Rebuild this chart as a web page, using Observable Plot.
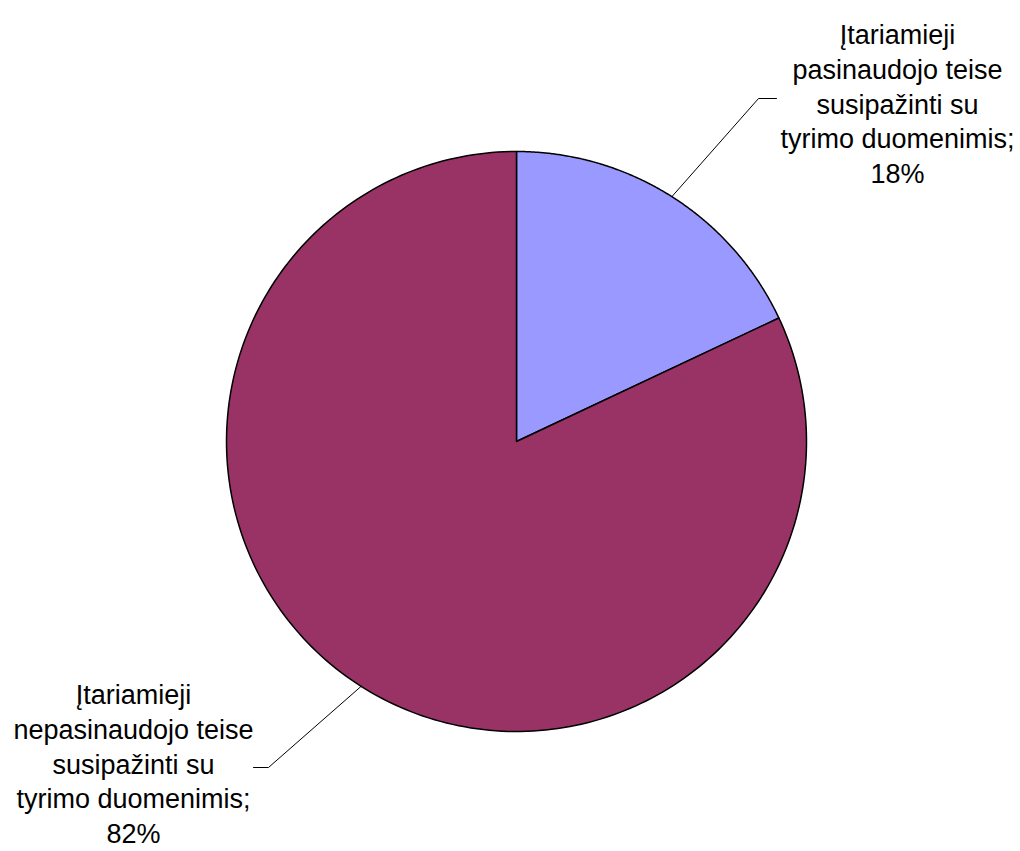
<!DOCTYPE html>
<html><head><meta charset="utf-8">
<script src="https://cdn.jsdelivr.net/npm/d3@7"></script>
<script src="https://cdn.jsdelivr.net/npm/@observablehq/plot@0.6"></script>
<style>body{margin:0;background:#fff}</style>
</head><body><div id="chart"></div>
<script>
const categories = ["Įtariamieji pasinaudojo teise susipažinti su tyrimo duomenimis", "Įtariamieji nepasinaudojo teise susipažinti su tyrimo duomenimis"];
const values = [18, 82];
const labels = ["Įtariamieji\npasinaudojo teise\nsusipažinti su\ntyrimo duomenimis;\n18%", "Įtariamieji\nnepasinaudojo teise\nsusipažinti su\ntyrimo duomenimis;\n82%"];
const colors = ["#9999FF", "#993366"];

const W = 1020, H = 851, cx = 516, cy = 441, R = 290;
// label layout: elbow point, end of horizontal leader, text centre
const layout = [
  {elbow: [758, 98], end: [776, 98], text: [897, 102]},
  {elbow: [268, 767], end: [253, 767], text: [133, 762]}
];

const slices = d3.pie().sort(null).value(d => d.value)(
  categories.map((c, i) => ({c, value: values[i], label: labels[i], color: colors[i]}))
);

const marks = [];
slices.forEach((s, i) => {
  const pts = [{x: cx, y: cy}];
  const n = 240;
  for (let j = 0; j <= n; j++) {
    const a = s.startAngle + (s.endAngle - s.startAngle) * j / n;
    pts.push({x: cx + R * Math.sin(a), y: cy - R * Math.cos(a)});
  }
  marks.push(Plot.line(pts, {x: "x", y: "y", curve: "linear-closed", fill: s.data.color, stroke: "black", strokeWidth: 1.5}));
});
slices.forEach((s, i) => {
  const mid = (s.startAngle + s.endAngle) / 2;
  const L = layout[i];
  const leader = [
    {x: cx + R * Math.sin(mid), y: cy - R * Math.cos(mid)},
    {x: L.elbow[0], y: L.elbow[1]},
    {x: L.end[0], y: L.end[1]}
  ];
  marks.push(Plot.line(leader, {x: "x", y: "y", stroke: "black", strokeWidth: 1}));
  marks.push(Plot.text([s.data], {
    x: () => L.text[0], y: () => L.text[1], text: "label",
    fontSize: 27, lineHeight: 1.28, textAnchor: "middle", lineAnchor: "middle", fill: "black"
  }));
});

const chart = Plot.plot({
  width: W, height: H, margin: 0,
  x: {domain: [0, W], range: [0, W], axis: null},
  y: {domain: [0, H], range: [0, H], axis: null},
  style: {fontFamily: "'Liberation Sans', Arial, sans-serif", background: "white"},
  marks
});
document.getElementById("chart").appendChild(chart);
</script>
</body></html>
